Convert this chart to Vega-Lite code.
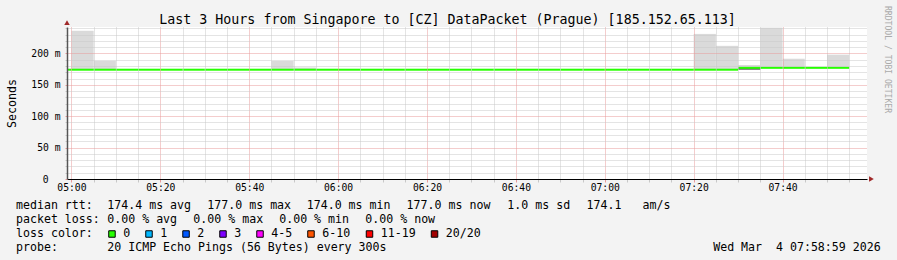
{
  "$schema": "https://vega.github.io/schema/vega-lite/v6.json",
  "width": 800,
  "height": 152,
  "autosize": {"type": "none"},
  "padding": {"left": 67, "top": 27, "right": 30, "bottom": 81},
  "background": "#f3f3f3",
  "config": {"view": {"fill": "#ffffff", "stroke": null}, "font": "DejaVu Sans Mono"},
  "title": {
    "text": "Last 3 Hours from Singapore to [CZ] DataPacket (Prague) [185.152.65.113]",
    "font": "DejaVu Sans Mono", "fontSize": 13.3, "fontWeight": "normal", "color": "#000000",
    "anchor": "middle", "dx": -19.5, "baseline": "alphabetic", "offset": -32.3
  },
  "datasets": {
    "rtt": [
      {"t": "2026-03-04T04:55:00", "t2": "2026-03-04T05:00:00", "med": 174, "hi": null, "lo": null},
      {"t": "2026-03-04T05:00:00", "t2": "2026-03-04T05:05:00", "med": 174, "hi": 236, "lo": null},
      {"t": "2026-03-04T05:05:00", "t2": "2026-03-04T05:10:00", "med": 174, "hi": 188, "lo": null},
      {"t": "2026-03-04T05:10:00", "t2": "2026-03-04T05:15:00", "med": 174, "hi": null, "lo": null},
      {"t": "2026-03-04T05:15:00", "t2": "2026-03-04T05:20:00", "med": 174, "hi": null, "lo": null},
      {"t": "2026-03-04T05:20:00", "t2": "2026-03-04T05:25:00", "med": 174, "hi": null, "lo": null},
      {"t": "2026-03-04T05:25:00", "t2": "2026-03-04T05:30:00", "med": 174, "hi": null, "lo": null},
      {"t": "2026-03-04T05:30:00", "t2": "2026-03-04T05:35:00", "med": 174, "hi": null, "lo": null},
      {"t": "2026-03-04T05:35:00", "t2": "2026-03-04T05:40:00", "med": 174, "hi": null, "lo": null},
      {"t": "2026-03-04T05:40:00", "t2": "2026-03-04T05:45:00", "med": 174, "hi": null, "lo": null},
      {"t": "2026-03-04T05:45:00", "t2": "2026-03-04T05:50:00", "med": 174, "hi": 188, "lo": null},
      {"t": "2026-03-04T05:50:00", "t2": "2026-03-04T05:55:00", "med": 174, "hi": 177.5, "lo": null},
      {"t": "2026-03-04T05:55:00", "t2": "2026-03-04T06:00:00", "med": 174, "hi": null, "lo": null},
      {"t": "2026-03-04T06:00:00", "t2": "2026-03-04T06:05:00", "med": 174, "hi": null, "lo": null},
      {"t": "2026-03-04T06:05:00", "t2": "2026-03-04T06:10:00", "med": 174, "hi": null, "lo": null},
      {"t": "2026-03-04T06:10:00", "t2": "2026-03-04T06:15:00", "med": 174, "hi": null, "lo": null},
      {"t": "2026-03-04T06:15:00", "t2": "2026-03-04T06:20:00", "med": 174, "hi": null, "lo": null},
      {"t": "2026-03-04T06:20:00", "t2": "2026-03-04T06:25:00", "med": 174, "hi": null, "lo": null},
      {"t": "2026-03-04T06:25:00", "t2": "2026-03-04T06:30:00", "med": 174, "hi": null, "lo": null},
      {"t": "2026-03-04T06:30:00", "t2": "2026-03-04T06:35:00", "med": 174, "hi": null, "lo": null},
      {"t": "2026-03-04T06:35:00", "t2": "2026-03-04T06:40:00", "med": 174, "hi": null, "lo": null},
      {"t": "2026-03-04T06:40:00", "t2": "2026-03-04T06:45:00", "med": 174, "hi": null, "lo": null},
      {"t": "2026-03-04T06:45:00", "t2": "2026-03-04T06:50:00", "med": 174, "hi": null, "lo": null},
      {"t": "2026-03-04T06:50:00", "t2": "2026-03-04T06:55:00", "med": 174, "hi": null, "lo": null},
      {"t": "2026-03-04T06:55:00", "t2": "2026-03-04T07:00:00", "med": 174, "hi": null, "lo": null},
      {"t": "2026-03-04T07:00:00", "t2": "2026-03-04T07:05:00", "med": 174, "hi": null, "lo": null},
      {"t": "2026-03-04T07:05:00", "t2": "2026-03-04T07:10:00", "med": 174, "hi": null, "lo": null},
      {"t": "2026-03-04T07:10:00", "t2": "2026-03-04T07:15:00", "med": 174, "hi": null, "lo": null},
      {"t": "2026-03-04T07:15:00", "t2": "2026-03-04T07:20:00", "med": 174, "hi": null, "lo": null},
      {"t": "2026-03-04T07:20:00", "t2": "2026-03-04T07:25:00", "med": 174, "hi": 231, "lo": null},
      {"t": "2026-03-04T07:25:00", "t2": "2026-03-04T07:30:00", "med": 174, "hi": 212, "lo": null},
      {"t": "2026-03-04T07:30:00", "t2": "2026-03-04T07:35:00", "med": 177, "hi": 181.5, "lo": 174},
      {"t": "2026-03-04T07:35:00", "t2": "2026-03-04T07:40:00", "med": 177, "hi": 241, "lo": null},
      {"t": "2026-03-04T07:40:00", "t2": "2026-03-04T07:45:00", "med": 177, "hi": 191.5, "lo": null},
      {"t": "2026-03-04T07:45:00", "t2": "2026-03-04T07:50:00", "med": 177, "hi": null, "lo": null},
      {"t": "2026-03-04T07:50:00", "t2": "2026-03-04T07:55:00", "med": 177, "hi": 198, "lo": null}
    ],
    "footer": [
      {"row": 1, "col": 0, "text": "median rtt:"},
      {"row": 1, "col": 13.04, "text": "174.4 ms avg"},
      {"row": 1, "col": 27.33, "text": "177.0 ms max"},
      {"row": 1, "col": 41.53, "text": "174.0 ms min"},
      {"row": 1, "col": 55.8, "text": "177.0 ms now"},
      {"row": 1, "col": 70.19, "text": "1.0 ms sd"},
      {"row": 1, "col": 81.5, "text": "174.1"},
      {"row": 1, "col": 89.5, "text": "am/s"},
      {"row": 2, "col": 0, "text": "packet loss:"},
      {"row": 2, "col": 13.04, "text": "0.00 % avg"},
      {"row": 2, "col": 25.33, "text": "0.00 % max"},
      {"row": 2, "col": 37.6, "text": "0.00 % min"},
      {"row": 2, "col": 49.9, "text": "0.00 % now"},
      {"row": 3, "col": 0, "text": "loss color:"},
      {"row": 3, "col": 15.33, "text": "0"},
      {"row": 3, "col": 20.61, "text": "1"},
      {"row": 3, "col": 25.9, "text": "2"},
      {"row": 3, "col": 31.19, "text": "3"},
      {"row": 3, "col": 36.47, "text": "4-5"},
      {"row": 3, "col": 43.76, "text": "6-10"},
      {"row": 3, "col": 52.11, "text": "11-19"},
      {"row": 3, "col": 61.4, "text": "20/20"},
      {"row": 4, "col": 0, "text": "probe:"},
      {"row": 4, "col": 13.04, "text": "20 ICMP Echo Pings (56 Bytes) every 300s"},
      {"row": 4, "col": 99.6, "text": "Wed Mar"},
      {"row": 4, "col": 108.57, "text": "4 07:58:59 2026"}
    ],
    "losscolors": [
      {"row": 3, "col": 13.71, "loss": "0"},
      {"row": 3, "col": 19.0, "loss": "1"},
      {"row": 3, "col": 24.29, "loss": "2"},
      {"row": 3, "col": 29.57, "loss": "3"},
      {"row": 3, "col": 34.86, "loss": "4-5"},
      {"row": 3, "col": 42.14, "loss": "6-10"},
      {"row": 3, "col": 50.5, "loss": "11-19"},
      {"row": 3, "col": 59.79, "loss": "20/20"}
    ]
  },
  "layer": [
    {
      "data": {"name": "rtt"},
      "layer": [
        {
          "transform": [{"filter": "isValid(datum.hi)"}],
          "mark": {"type": "bar", "color": "#dadada", "clip": true},
          "encoding": {
            "x": {
              "field": "t", "type": "temporal",
              "scale": {"domain": [{"year": 2026, "month": 3, "date": 4, "hours": 4, "minutes": 59}, {"year": 2026, "month": 3, "date": 4, "hours": 7, "minutes": 59}]},
              "axis": {
                "orient": "bottom", "title": null, "zindex": 1,
                "values": [
                  {"year": 2026, "month": 3, "date": 4, "hours": 5, "minutes": 5},
                  {"year": 2026, "month": 3, "date": 4, "hours": 5, "minutes": 10},
                  {"year": 2026, "month": 3, "date": 4, "hours": 5, "minutes": 15},
                  {"year": 2026, "month": 3, "date": 4, "hours": 5, "minutes": 25},
                  {"year": 2026, "month": 3, "date": 4, "hours": 5, "minutes": 30},
                  {"year": 2026, "month": 3, "date": 4, "hours": 5, "minutes": 35},
                  {"year": 2026, "month": 3, "date": 4, "hours": 5, "minutes": 45},
                  {"year": 2026, "month": 3, "date": 4, "hours": 5, "minutes": 50},
                  {"year": 2026, "month": 3, "date": 4, "hours": 5, "minutes": 55},
                  {"year": 2026, "month": 3, "date": 4, "hours": 6, "minutes": 5},
                  {"year": 2026, "month": 3, "date": 4, "hours": 6, "minutes": 10},
                  {"year": 2026, "month": 3, "date": 4, "hours": 6, "minutes": 15},
                  {"year": 2026, "month": 3, "date": 4, "hours": 6, "minutes": 25},
                  {"year": 2026, "month": 3, "date": 4, "hours": 6, "minutes": 30},
                  {"year": 2026, "month": 3, "date": 4, "hours": 6, "minutes": 35},
                  {"year": 2026, "month": 3, "date": 4, "hours": 6, "minutes": 45},
                  {"year": 2026, "month": 3, "date": 4, "hours": 6, "minutes": 50},
                  {"year": 2026, "month": 3, "date": 4, "hours": 6, "minutes": 55},
                  {"year": 2026, "month": 3, "date": 4, "hours": 7, "minutes": 5},
                  {"year": 2026, "month": 3, "date": 4, "hours": 7, "minutes": 10},
                  {"year": 2026, "month": 3, "date": 4, "hours": 7, "minutes": 15},
                  {"year": 2026, "month": 3, "date": 4, "hours": 7, "minutes": 25},
                  {"year": 2026, "month": 3, "date": 4, "hours": 7, "minutes": 30},
                  {"year": 2026, "month": 3, "date": 4, "hours": 7, "minutes": 35},
                  {"year": 2026, "month": 3, "date": 4, "hours": 7, "minutes": 45},
                  {"year": 2026, "month": 3, "date": 4, "hours": 7, "minutes": 50},
                  {"year": 2026, "month": 3, "date": 4, "hours": 7, "minutes": 55}
                ],
                "labels": false, "domain": false,
                "grid": true, "gridDash": [1, 1], "gridWidth": 1, "gridColor": "#c8c8c8",
                "ticks": true, "tickSize": 3, "tickColor": "#c8c8c8"
              }
            },
            "x2": {"field": "t2"},
            "y": {
              "field": "med", "type": "quantitative",
              "scale": {"domain": [0, 242], "nice": false, "zero": false},
              "axis": {
                "orient": "left", "zindex": 1,
                "values": [0, 10, 20, 30, 40, 50, 60, 70, 80, 90, 100, 110, 120, 130, 140, 150, 160, 170, 180, 190, 200, 210, 220, 230, 240],
                "labelExpr": "datum.value % 50 == 0 ? (datum.value == 0 ? '0' : datum.value + ' m') : ''",
                "labelOverlap": false, "labelFlush": false,
                "labelFont": "DejaVu Sans Mono", "labelFontSize": 9.7, "labelColor": "#000000",
                "labelPadding": {"condition": {"test": "datum.value == 0", "value": 17}, "value": 5},
                "grid": true, "gridDash": [1, 1], "gridWidth": 1,
                "gridColor": {"condition": {"test": "datum.value % 50 == 0", "value": "#e89a9a"}, "value": "#c8c8c8"},
                "ticks": true, "tickSize": 2,
                "tickColor": {"condition": {"test": "datum.value % 50 == 0", "value": "#e89a9a"}, "value": "#c8c8c8"},
                "domain": true, "domainColor": "#555555", "domainWidth": 1.5,
                "title": "Seconds", "titleFont": "DejaVu Sans Mono", "titleFontSize": 11.6, "titleFontWeight": "normal", "titleColor": "#000000", "titlePadding": 13
              }
            },
            "y2": {"field": "hi"}
          }
        },
        {
          "transform": [{"filter": "isValid(datum.lo)"}],
          "mark": {"type": "bar", "color": "#5a5a5a", "clip": true},
          "encoding": {
            "x": {"field": "t", "type": "temporal", "axis": null},
            "x2": {"field": "t2"},
            "y": {"field": "lo", "type": "quantitative", "axis": null},
            "y2": {"field": "med"}
          }
        },
        {
          "mark": {"type": "rule", "color": "#26ff00", "strokeWidth": 2, "clip": true},
          "encoding": {
            "x": {
              "field": "t", "type": "temporal",
              "axis": {
                "orient": "bottom", "title": null, "zindex": 1,
                "values": [
                  {"year": 2026, "month": 3, "date": 4, "hours": 5, "minutes": 0},
                  {"year": 2026, "month": 3, "date": 4, "hours": 5, "minutes": 20},
                  {"year": 2026, "month": 3, "date": 4, "hours": 5, "minutes": 40},
                  {"year": 2026, "month": 3, "date": 4, "hours": 6, "minutes": 0},
                  {"year": 2026, "month": 3, "date": 4, "hours": 6, "minutes": 20},
                  {"year": 2026, "month": 3, "date": 4, "hours": 6, "minutes": 40},
                  {"year": 2026, "month": 3, "date": 4, "hours": 7, "minutes": 0},
                  {"year": 2026, "month": 3, "date": 4, "hours": 7, "minutes": 20},
                  {"year": 2026, "month": 3, "date": 4, "hours": 7, "minutes": 40}
                ],
                "format": "%H:%M",
                "labelOverlap": false, "labelFlush": false,
                "labelFont": "DejaVu Sans Mono", "labelFontSize": 9.7, "labelColor": "#000000", "labelPadding": 0.5,
                "grid": true, "gridDash": [1, 1], "gridWidth": 1, "gridColor": "#e89a9a",
                "ticks": true, "tickSize": 3, "tickColor": "#e89a9a",
                "domain": true, "domainColor": "#000000", "domainWidth": 1
              }
            },
            "x2": {"field": "t2"},
            "y": {
              "field": "med", "type": "quantitative",
              "axis": {
                "orient": "right", "labels": false, "ticks": false, "domain": false, "grid": false,
                "title": "RRDTOOL / TOBI OETIKER", "titleAngle": 90, "titleColor": "#aaaaaa",
                "titleFont": "DejaVu Sans Mono", "titleFontSize": 8.1, "titleFontWeight": "normal",
                "titlePadding": 15, "titleY": 32, "titleAlign": "center"
              }
            }
          }
        },
        {
          "data": {"values": [{"arrow": "y"}]},
          "mark": {"type": "point", "shape": "triangle-up", "filled": true, "color": "#a02828", "size": 30, "opacity": 1},
          "encoding": {
            "x": {"datum": {"year": 2026, "month": 3, "date": 4, "hours": 4, "minutes": 59}, "type": "temporal", "axis": null},
            "y": {"datum": 249, "type": "quantitative", "axis": null}
          }
        },
        {
          "data": {"values": [{"arrow": "x"}]},
          "mark": {"type": "point", "shape": "triangle-right", "filled": true, "color": "#a02828", "size": 30, "opacity": 1},
          "encoding": {
            "x": {"datum": {"year": 2026, "month": 3, "date": 4, "hours": 8, "minutes": 0}, "type": "temporal", "axis": null},
            "y": {"datum": 0, "type": "quantitative", "axis": null}
          }
        }
      ],
      "resolve": {"axis": {"x": "independent", "y": "independent"}}
    },
    {
      "layer": [
        {
          "data": {"name": "footer"},
          "mark": {"type": "text", "align": "left", "baseline": "middle", "font": "DejaVu Sans Mono", "fontSize": 11.6, "color": "#000000"},
          "encoding": {
            "x": {"field": "col", "type": "quantitative", "scale": {"domain": [0, 100], "range": [-51, 649], "nice": false, "zero": false}, "axis": null},
            "y": {"field": "row", "type": "quantitative", "scale": {"domain": [1, 4], "range": [179, 221], "nice": false, "zero": false}, "axis": null},
            "text": {"field": "text"}
          }
        },
        {
          "data": {"name": "losscolors"},
          "mark": {"type": "point", "shape": "square", "filled": true, "size": 42, "stroke": "#000000", "strokeWidth": 1, "opacity": 1},
          "encoding": {
            "x": {"field": "col", "type": "quantitative", "axis": null},
            "y": {"field": "row", "type": "quantitative", "axis": null},
            "fill": {
              "field": "loss", "type": "nominal", "legend": null,
              "scale": {"domain": ["0", "1", "2", "3", "4-5", "6-10", "11-19", "20/20"], "range": ["#26ff00", "#00b8ff", "#0059ff", "#7e00ff", "#ff00ff", "#ff5500", "#ff0000", "#a10000"]}
            }
          }
        }
      ]
    }
  ],
  "resolve": {"scale": {"x": "independent", "y": "independent"}}
}
